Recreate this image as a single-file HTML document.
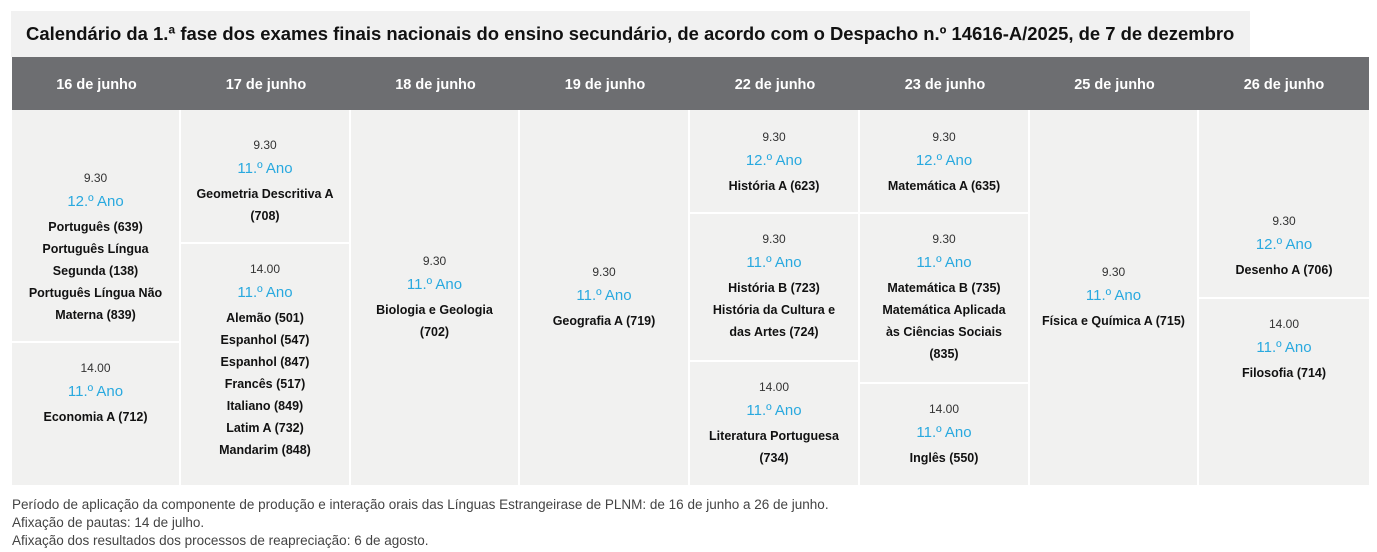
<!DOCTYPE html>
<html><head><meta charset="utf-8"><style>
body{margin:0;width:1377px;height:552px;background:#fff;font-family:"Liberation Sans",sans-serif;position:relative;overflow:hidden}
.t{position:absolute;left:11px;top:11px;width:1239px;height:46px;background:#f1f1f1;font-weight:bold;font-size:18.45px;line-height:46px;padding-left:15px;box-sizing:border-box;color:#111;white-space:nowrap}
.h{position:absolute;top:57px;height:53px;left:12px;width:1357px;background:#6d6e71}
.hc{position:absolute;top:59px;height:53px;line-height:53px;text-align:center;color:#fff;font-weight:bold;font-size:14.5px}
.c{position:absolute;background:#f1f1f0;display:flex;flex-direction:column;justify-content:flex-start;align-items:center;text-align:center;box-sizing:border-box}
.c div{line-height:22px}
.tm{font-size:12px;color:#333}
.c .a{font-size:15px;color:#29a9df;line-height:24px;margin-top:1px}
.s{font-size:12.5px;font-weight:bold;color:#111;margin-top:2px}
.f{position:absolute;left:12px;font-size:13.5px;color:#444}
</style></head><body>
<div class="t">Calendário da 1.ª fase dos exames finais nacionais do ensino secundário, de acordo com o Despacho n.º 14616-A/2025, de 7 de dezembro</div>
<div class="h"></div>
<div class="hc" style="left:12px;width:169px">16 de junho</div>
<div class="hc" style="left:181px;width:170px">17 de junho</div>
<div class="hc" style="left:351px;width:169px">18 de junho</div>
<div class="hc" style="left:520px;width:170px">19 de junho</div>
<div class="hc" style="left:690px;width:170px">22 de junho</div>
<div class="hc" style="left:860px;width:170px">23 de junho</div>
<div class="hc" style="left:1030px;width:169px">25 de junho</div>
<div class="hc" style="left:1199px;width:170px">26 de junho</div>

<div class="c" style="left:12px;top:110px;width:167px;height:231px;padding-top:57px"><div class="tm">9.30</div><div class="a">12.º Ano</div><div class="s">Português (639)<br>Português Língua<br>Segunda (138)<br>Português Língua Não<br>Materna (839)</div></div>
<div class="c" style="left:12px;top:343px;width:167px;height:142px;padding-top:14px"><div class="tm">14.00</div><div class="a">11.º Ano</div><div class="s">Economia A (712)</div></div>

<div class="c" style="left:181px;top:110px;width:168px;height:132px;padding-top:24px"><div class="tm">9.30</div><div class="a">11.º Ano</div><div class="s">Geometria Descritiva A<br>(708)</div></div>
<div class="c" style="left:181px;top:244px;width:168px;height:241px;padding-top:14px"><div class="tm">14.00</div><div class="a">11.º Ano</div><div class="s">Alemão (501)<br>Espanhol (547)<br>Espanhol (847)<br>Francês (517)<br>Italiano (849)<br>Latim A (732)<br>Mandarim (848)</div></div>

<div class="c" style="left:351px;top:110px;width:167px;height:375px;padding-top:140px"><div class="tm">9.30</div><div class="a">11.º Ano</div><div class="s">Biologia e Geologia<br>(702)</div></div>
<div class="c" style="left:520px;top:110px;width:168px;height:375px;padding-top:151px"><div class="tm">9.30</div><div class="a">11.º Ano</div><div class="s">Geografia A (719)</div></div>

<div class="c" style="left:690px;top:110px;width:168px;height:102px;padding-top:16px"><div class="tm">9.30</div><div class="a">12.º Ano</div><div class="s">História A (623)</div></div>
<div class="c" style="left:690px;top:214px;width:168px;height:146px;padding-top:14px"><div class="tm">9.30</div><div class="a">11.º Ano</div><div class="s">História B (723)<br>História da Cultura e<br>das Artes (724)</div></div>
<div class="c" style="left:690px;top:362px;width:168px;height:123px;padding-top:14px"><div class="tm">14.00</div><div class="a">11.º Ano</div><div class="s">Literatura Portuguesa<br>(734)</div></div>

<div class="c" style="left:860px;top:110px;width:168px;height:102px;padding-top:16px"><div class="tm">9.30</div><div class="a">12.º Ano</div><div class="s">Matemática A (635)</div></div>
<div class="c" style="left:860px;top:214px;width:168px;height:168px;padding-top:14px"><div class="tm">9.30</div><div class="a">11.º Ano</div><div class="s">Matemática B (735)<br>Matemática Aplicada<br>às Ciências Sociais<br>(835)</div></div>
<div class="c" style="left:860px;top:384px;width:168px;height:101px;padding-top:14px"><div class="tm">14.00</div><div class="a">11.º Ano</div><div class="s">Inglês (550)</div></div>

<div class="c" style="left:1030px;top:110px;width:167px;height:375px;padding-top:151px"><div class="tm">9.30</div><div class="a">11.º Ano</div><div class="s">Física e Química A (715)</div></div>
<div class="c" style="left:1199px;top:110px;width:170px;height:187px;padding-top:100px"><div class="tm">9.30</div><div class="a">12.º Ano</div><div class="s">Desenho A (706)</div></div>
<div class="c" style="left:1199px;top:299px;width:170px;height:186px;padding-top:14px"><div class="tm">14.00</div><div class="a">11.º Ano</div><div class="s">Filosofia (714)</div></div>

<div class="f" style="top:497px">Período de aplicação da componente de produção e interação orais das Línguas Estrangeirase de PLNM: de 16 de junho a 26 de junho.</div>
<div class="f" style="top:515px">Afixação de pautas: 14 de julho.</div>
<div class="f" style="top:533px">Afixação dos resultados dos processos de reapreciação: 6 de agosto.</div>
</body></html>
